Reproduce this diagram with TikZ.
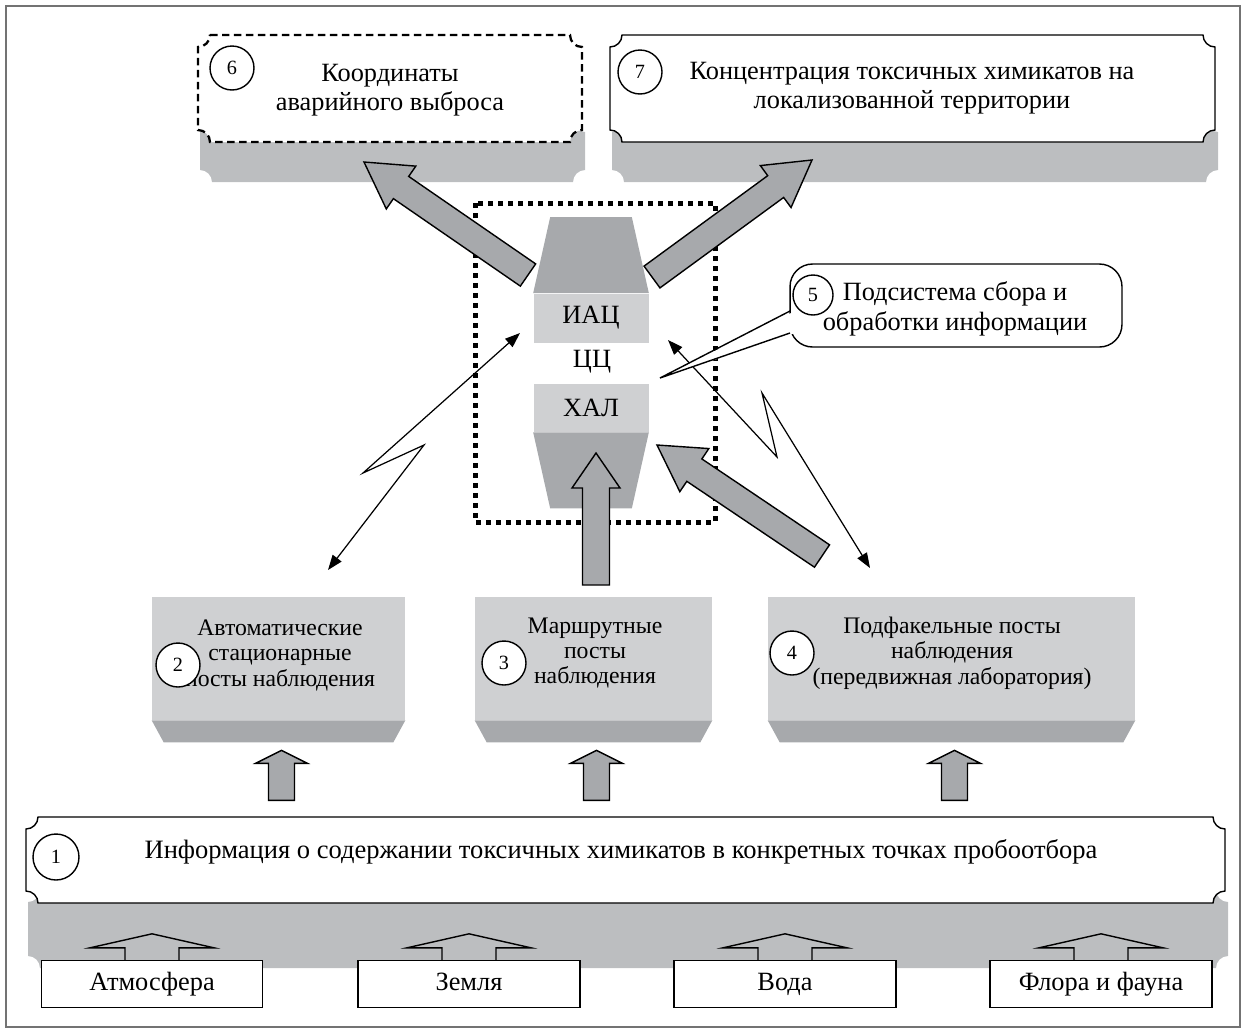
\documentclass[tikz,border=0pt]{standalone}
\usepackage{fontspec}
\setmainfont{Liberation Serif}
\usetikzlibrary{calc,arrows.meta}

\definecolor{tenj}{HTML}{BCBEC0}
\definecolor{gran}{HTML}{CFD0D2}
\definecolor{temn}{HTML}{A7A9AC}

% rectangle with cut-in corners
\newcommand\bilet[5][]{\draw[#1] (#2+12,-#3) -- (#4-12,-#3) arc[start angle=180,end angle=270,radius=0.24cm] -- (#4,-#5+12) arc[start angle=90,end angle=180,radius=0.24cm] -- (#2+12,-#5) arc[start angle=0,end angle=90,radius=0.24cm] -- (#2,-#3-12) arc[start angle=270,end angle=360,radius=0.24cm] -- cycle;}

% wide arrow: tail, tip, head length, head half width, shaft half width
\newcommand\blokstrel[5]{%
	\path ($(#2)!#3!(#1)$) coordinate (osn);
	\draw[bigarr] ($(#1)!#5!90:(#2)$) -- ($(osn)!#5!90:(#2)$) -- ($(osn)!#4!90:(#2)$) -- (#2) -- ($(osn)!#4!-90:(#2)$) -- ($(osn)!#5!-90:(#2)$) -- ($(#1)!#5!-90:(#2)$) -- cycle;}

\begin{document}
\begin{tikzpicture}[x=0.02cm,y=0.02cm,
	txt/.style={align=center,font=\fontsize{15}{16.5}\selectfont,inner sep=0pt},
	mtxt/.style={align=center,font=\fontsize{13.5}{14.5}\selectfont,inner sep=0pt},
	num/.style={circle,draw,fill=white,line width=0.8pt,minimum size=0.88cm,inner sep=0pt,font=\fontsize{11.5}{12}\selectfont},
	postface/.style={fill=gran,inner sep=0pt},
	bigarr/.style={draw=black,fill=temn,line width=0.8pt},
	molnia/.style={line width=0.7pt,{Triangle[length=0.3cm,width=0.22cm]}-{Triangle[length=0.3cm,width=0.22cm]}},
	stend/.style={draw,fill=white,line width=0.8pt,minimum height=0.94cm,inner sep=0pt,text height=10.5pt,text depth=3pt,font=\fontsize{15}{16.5}\selectfont},
	tochki/.style={line width=0.1cm,dash pattern=on 0.1cm off 0.1cm}]
	\useasboundingbox (0,0) rectangle (1246,-1032);
	\draw[black!55,line width=0.6pt] (6,-6) rectangle (1240,-1027);

	% top boxes
	\bilet[fill=tenj,draw=none]{200}{120}{585}{182}
	\bilet[fill=white,line width=1.3pt,dash pattern=on 0.15cm off 0.09cm]{198}{35}{582}{142}
	\node[num] (n6) at (232,-68) {6};
	\node[txt] (t6) at (390,-90) {Координаты\\аварийного выброса};
	\bilet[fill=tenj,draw=none]{612}{120}{1218}{182}
	\bilet[fill=white,line width=0.8pt]{610}{35}{1215}{142}
	\node[num] (n7) at (640,-72) {7};
	\node[txt] (t7) at (912,-88) {Концентрация токсичных химикатов на\\локализованной территории};

	% centre
	\draw[tochki] (475,-203) rectangle (715,-522);
	\node[postface,minimum width=2.3cm,minimum height=0.98cm,font=\fontsize{15}{16.5}\selectfont] (iac) at (591,-318) {ИАЦ};
	\node[postface,minimum width=2.3cm,minimum height=0.96cm,font=\fontsize{15}{16.5}\selectfont] (hal) at (591,-408) {ХАЛ};
	\node[font=\fontsize{15}{16.5}\selectfont] (cc) at (592,-362) {ЦЦ};
	\fill[temn] (iac.north west) -- (iac.north east) -- ++(-17,76) -- ($(iac.north west)+(17,76)$) -- cycle;
	\fill[temn] (hal.south west) -- (hal.south east) -- ++(-17,-76) -- ($(hal.south west)+(17,-76)$) -- cycle;

	\coordinate (s6a) at (528,-275);
	\coordinate (s6b) at (364,-162);
	\coordinate (s7a) at (652,-277);
	\coordinate (s7b) at (812,-160);
	\coordinate (s3a) at (596,-585);
	\coordinate (s3b) at (596,-453);
	\coordinate (s4a) at (822,-556);
	\coordinate (s4b) at (657,-445);
	\blokstrel{s6a}{s6b}{0.9cm}{0.52cm}{0.27cm}
	\blokstrel{s7a}{s7b}{0.9cm}{0.52cm}{0.27cm}
	\blokstrel{s3a}{s3b}{0.7cm}{0.48cm}{0.27cm}
	\blokstrel{s4a}{s4b}{0.9cm}{0.52cm}{0.27cm}

	% radio links
	\coordinate (m2a) at (520,-333);
	\coordinate (m2b) at (328,-570);
	\coordinate (m4a) at (668,-340);
	\coordinate (m4b) at (870,-568);
	\draw[molnia] (m2a) -- (363,-473) -- (424,-445) -- (m2b);
	\draw[molnia] (m4a) -- (777,-457) -- (762,-393) -- (m4b);

	% callout
	\node[draw,fill=white,line width=0.8pt,rounded corners=0.45cm,minimum width=6.64cm,minimum height=1.66cm] (c5) at (956,-305.5) {};
	\coordinate (c5tip) at (660,-378);
	\fill[white] (795,-311) -- (c5tip) -- (795,-333) -- cycle;
	\draw[line width=0.8pt] (790,-311) -- (c5tip) -- (790,-333);
	\node[txt,font=\fontsize{15}{17}\selectfont] (t5) at (955,-309) {Подсистема сбора и\\обработки информации};
	\node[num,minimum size=0.8cm] (n5) at (813,-295) {5};

	% posts
	\node[postface,minimum width=5.06cm,minimum height=2.46cm] (p2) at (278.5,-658.5) {};
	\node[postface,minimum width=4.74cm,minimum height=2.46cm] (p3) at (593.5,-658.5) {};
	\node[postface,minimum width=7.34cm,minimum height=2.46cm] (p4) at (951.5,-658.5) {};
	\foreach \p in {p2,p3,p4} {
		\fill[temn] (\p.south west) -- (\p.south east) -- ++(-12,-22) -- ($(\p.south west)+(12,-22)$) -- cycle;
		\coordinate (\p-h) at ($(\p.south)+(3,-30)$);
		\coordinate (\p-t) at ($(\p.south)+(3,-80)$);
		\blokstrel{\p-t}{\p-h}{0.26cm}{0.52cm}{0.26cm}
	}
	\node[mtxt] (t2) at (280,-655) {Автоматические\\стационарные\\посты наблюдения};
	\node[mtxt] (t3) at (595,-653) {Маршрутные\\посты\\наблюдения};
	\node[mtxt] (t4) at (952,-653) {Подфакельные посты\\наблюдения\\(передвижная лаборатория)};
	\node[num] (n2) at (178,-665) {2};
	\node[num] (n3) at (504,-663) {3};
	\node[num] (n4) at (792,-653) {4};

	% bottom
	\bilet[fill=tenj,draw=none]{28}{890}{1228}{968}
	\bilet[fill=white,line width=0.8pt]{26}{817}{1225}{903}
	\node[num,minimum size=0.92cm] (n1) at (56,-857) {1};
	\node[txt,font=\fontsize{15.1}{17}\selectfont] (t1) at (621,-852) {Информация о содержании токсичных химикатов в конкретных точках пробоотбора};
	\node[stend,minimum width=4.42cm] (atm) at (152,-984) {Атмосфера};
	\node[stend,minimum width=4.44cm] (zem) at (469,-984) {Земля};
	\node[stend,minimum width=4.44cm] (voda) at (785,-984) {Вода};
	\node[stend,minimum width=4.44cm] (flora) at (1101,-984) {Флора и фауна};
	\foreach \b in {atm,zem,voda,flora}
		\draw[line width=0.8pt] ($(\b.north)+(-27,0)$) -- ++(0,12) -- ++(-35,0) -- ($(\b.north)+(0,26)$) -- ($(\b.north)+(62,12)$) -- ++(-35,0) -- ++(0,-12);
\end{tikzpicture}
\end{document}
